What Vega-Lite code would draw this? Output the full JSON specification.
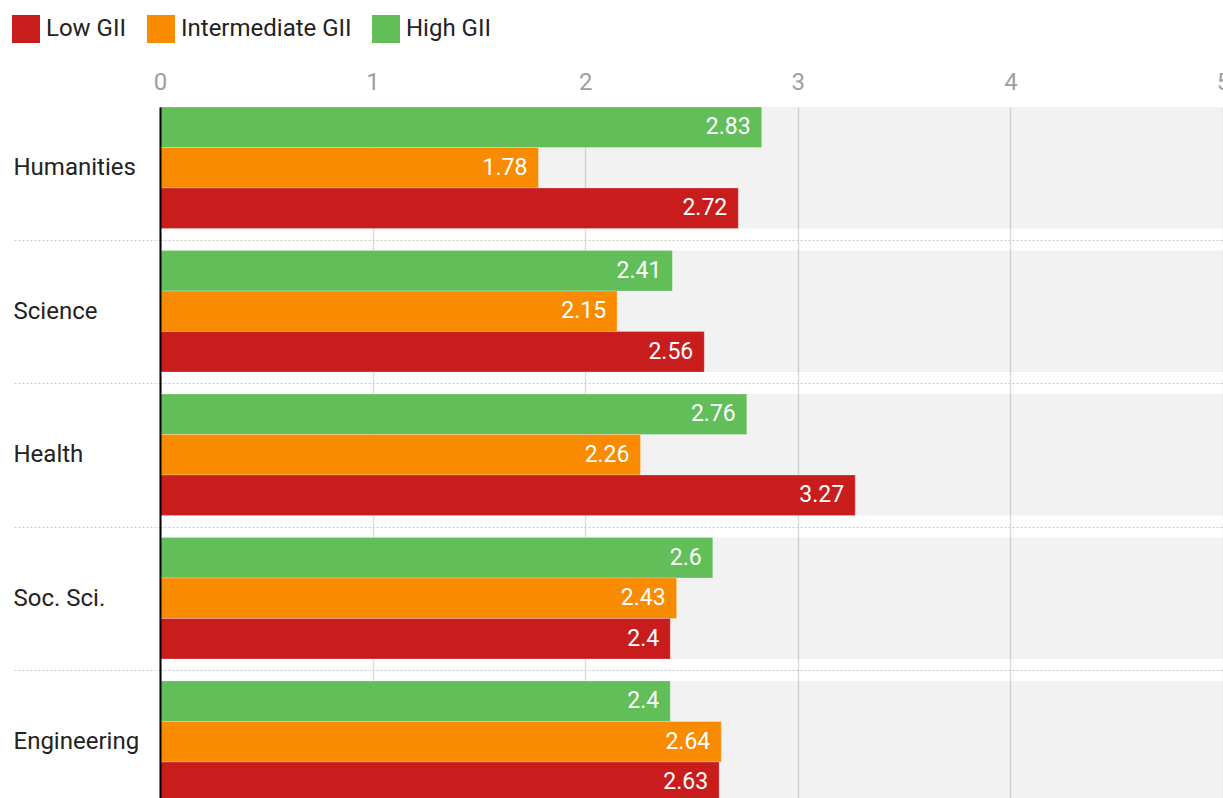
{
  "$schema": "https://vega.github.io/schema/vega-lite/v6.json",
  "autosize": {"type": "none"},
  "padding": {"left": 160, "top": 107, "right": 0, "bottom": 0},
  "width": 1063,
  "height": 695.5,
  "config": {
    "font": "Roboto",
    "view": {"stroke": null},
    "text": {"font": "Roboto"}
  },
  "data": {
    "values": [
      {"field": "Humanities", "group": "High GII", "value": 2.83},
      {"field": "Humanities", "group": "Intermediate GII", "value": 1.78},
      {"field": "Humanities", "group": "Low GII", "value": 2.72},
      {"field": "Science", "group": "High GII", "value": 2.41},
      {"field": "Science", "group": "Intermediate GII", "value": 2.15},
      {"field": "Science", "group": "Low GII", "value": 2.56},
      {"field": "Health", "group": "High GII", "value": 2.76},
      {"field": "Health", "group": "Intermediate GII", "value": 2.26},
      {"field": "Health", "group": "Low GII", "value": 3.27},
      {"field": "Soc. Sci.", "group": "High GII", "value": 2.6},
      {"field": "Soc. Sci.", "group": "Intermediate GII", "value": 2.43},
      {"field": "Soc. Sci.", "group": "Low GII", "value": 2.4},
      {"field": "Engineering", "group": "High GII", "value": 2.4},
      {"field": "Engineering", "group": "Intermediate GII", "value": 2.64},
      {"field": "Engineering", "group": "Low GII", "value": 2.63}
    ]
  },
  "encoding": {
    "y": {
      "field": "field",
      "type": "nominal",
      "sort": ["Humanities", "Science", "Health", "Soc. Sci.", "Engineering"],
      "scale": {"paddingInner": 0.153, "paddingOuter": 0},
      "axis": {
        "title": null,
        "orient": "left",
        "zindex": 1,
        "bandPosition": 1,
        "tickOffset": 11,
        "labelOffset": -11,
        "ticks": true,
        "tickSize": 148,
        "tickDash": [2, 2],
        "tickColor": "#c8c8c8",
        "tickWidth": 1,
        "grid": true,
        "gridDash": [2, 2],
        "gridColor": "#c8c8c8",
        "domain": true,
        "domainColor": "#000000",
        "domainWidth": 2,
        "labelAlign": "left",
        "labelPadding": -1,
        "labelFontSize": 24,
        "labelColor": "#222222",
        "labelFont": "Roboto"
      }
    }
  },
  "layer": [
    {
      "transform": [{"filter": "datum.group === 'Low GII'"}],
      "mark": {"type": "bar", "fill": "#000000", "opacity": 0.05},
      "encoding": {
        "x": {"datum": 0, "type": "quantitative"},
        "x2": {"datum": 5}
      }
    },
    {
      "mark": {"type": "bar", "stroke": "#ffffff", "strokeWidth": 0.5, "strokeOpacity": 0.5},
      "encoding": {
        "x": {
          "field": "value",
          "type": "quantitative",
          "scale": {"domain": [0, 5], "nice": false},
          "axis": {
            "title": null,
            "orient": "top",
            "values": [0, 1, 2, 3, 4, 5],
            "format": "d",
            "grid": true,
            "gridColor": "#dddddd",
            "gridWidth": 1.5,
            "domain": false,
            "ticks": false,
            "labelColor": "#9e9e9e",
            "labelFontSize": 24,
            "labelPadding": 13,
            "labelFlush": false,
            "labelFont": "Roboto"
          }
        },
        "yOffset": {
          "field": "group",
          "type": "nominal",
          "sort": ["High GII", "Intermediate GII", "Low GII"],
          "scale": {"paddingInner": 0, "paddingOuter": 0}
        },
        "color": {
          "field": "group",
          "type": "nominal",
          "sort": ["Low GII", "Intermediate GII", "High GII"],
          "scale": {
            "domain": ["Low GII", "Intermediate GII", "High GII"],
            "range": ["#c91c1c", "#f98b00", "#62be58"]
          },
          "legend": {
            "title": null,
            "orient": "none",
            "direction": "horizontal",
            "legendX": -148,
            "legendY": -92,
            "symbolType": "square",
            "symbolSize": 784,
            "symbolStrokeWidth": 0,
            "symbolOpacity": 1,
            "labelFontSize": 24,
            "labelLimit": 400,
            "labelColor": "#222222",
            "labelFont": "Roboto",
            "labelOffset": 6,
            "columnPadding": 20
          }
        }
      }
    },
    {
      "mark": {"type": "text", "align": "right", "baseline": "middle", "dx": -11, "fill": "#ffffff", "fontSize": 23, "font": "Roboto"},
      "encoding": {
        "x": {"field": "value", "type": "quantitative"},
        "yOffset": {
          "field": "group",
          "type": "nominal",
          "sort": ["High GII", "Intermediate GII", "Low GII"]
        },
        "text": {"field": "value", "type": "quantitative"}
      }
    }
  ]
}
